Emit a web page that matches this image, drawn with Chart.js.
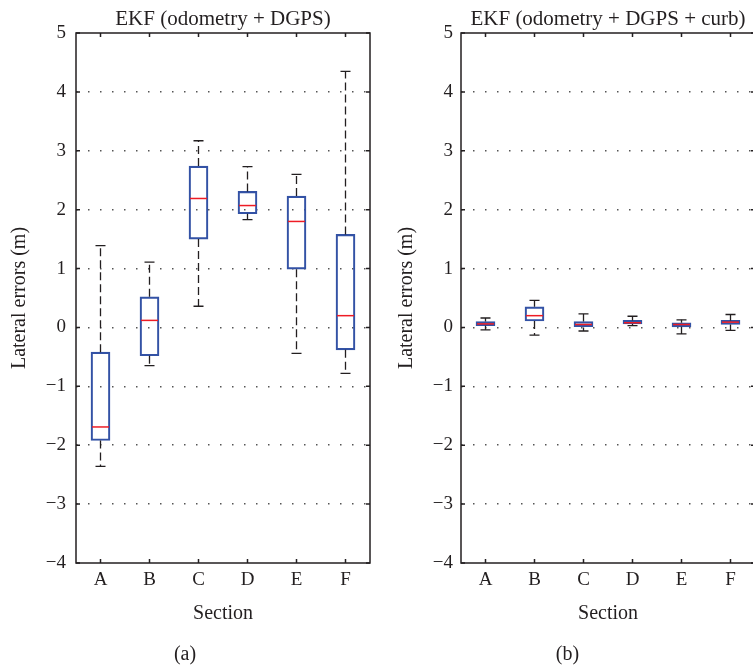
<!DOCTYPE html>
<html>
<head>
<meta charset="utf-8">
<script src="https://cdn.jsdelivr.net/npm/chart.js@4.4.1/dist/chart.umd.min.js"></script>
<style>
    html, body { margin: 0; padding: 0; background: #fff; overflow: hidden; width: 753px; height: 667px; }
    .panel { position: absolute; top: 0; width: 380px; height: 667px; }
</style>
</head>
<body>
<div class="panel" style="left:0"><canvas id="chartA" width="380" height="667"></canvas></div>
<div class="panel" style="left:380px"><canvas id="chartB" width="380" height="667"></canvas></div>

<script>
// Các đoạn đường và vạch trục tung
const sections = ["A", "B", "C", "D", "E", "F"];
const yTickValues = [-4, -3, -2, -1, 0, 1, 2, 3, 4, 5];

// (a) EKF (odometry + DGPS)
const lowA = [-2.36, -0.65, 0.36, 1.83, -0.44, -0.78];
const q1A = [-1.92, -0.48, 1.50, 1.93, 0.99, -0.38];
const medA = [-1.69, 0.12, 2.19, 2.07, 1.80, 0.20];
const q3A = [-0.42, 0.52, 2.74, 2.31, 2.23, 1.58];
const highA = [1.39, 1.11, 3.17, 2.73, 2.60, 4.35];

// (b) EKF (odometry + DGPS + curb)
const lowB = [-0.04, -0.13, -0.06, 0.03, -0.11, -0.05];
const q1B = [0.03, 0.11, 0.00, 0.06, 0.01, 0.05];
const medB = [0.06, 0.20, 0.05, 0.08, 0.05, 0.09];
const q3B = [0.10, 0.35, 0.10, 0.12, 0.08, 0.12];
const highB = [0.16, 0.46, 0.23, 0.19, 0.13, 0.22];

const textColor = "#231f20";
const boxColor = "#3352a5";
const medianColor = "#ee1c25";
const fontFamily = "'Liberation Serif', 'DejaVu Serif', serif";

// Vẽ râu và trung vị cho từng hộp
const boxPlotPlugin = {
    id: "boxPlot",
    afterDatasetsDraw(chart) {
        const ds = chart.data.datasets[0];
        const meta = chart.getDatasetMeta(0);
        const xs = chart.scales.x;
        const ys = chart.scales.y;
        const ctx = chart.ctx;
        ctx.save();
        ds.low.forEach((lo, i) => {
            const cx = xs.getPixelForValue(i);
            const half = meta.data[i].width / 2;
            const yHigh = ys.getPixelForValue(ds.high[i]);
            const yLow = ys.getPixelForValue(lo);
            const yQ1 = ys.getPixelForValue(ds.data[i][0]);
            const yQ3 = ys.getPixelForValue(ds.data[i][1]);

            ctx.strokeStyle = textColor;
            ctx.lineWidth = 1.3;
            ctx.setLineDash([8, 4]);
            ctx.beginPath();
            ctx.moveTo(cx, yQ3);
            ctx.lineTo(cx, yHigh);
            ctx.moveTo(cx, yQ1);
            ctx.lineTo(cx, yLow);
            ctx.stroke();

            ctx.setLineDash([]);
            ctx.beginPath();
            ctx.moveTo(cx - 5, yHigh);
            ctx.lineTo(cx + 5, yHigh);
            ctx.moveTo(cx - 5, yLow);
            ctx.lineTo(cx + 5, yLow);
            ctx.stroke();

            const yMed = ys.getPixelForValue(ds.med[i]);
            ctx.strokeStyle = medianColor;
            ctx.lineWidth = 1.5;
            ctx.beginPath();
            ctx.moveTo(cx - half + 1, yMed);
            ctx.lineTo(cx + half - 1, yMed);
            ctx.stroke();
        });
        ctx.restore();
    },
    // Khung và vạch chia hướng vào trong
    afterDraw(chart) {
        const { left, right, top, bottom } = chart.chartArea;
        const ctx = chart.ctx;
        const tick = 4;
        ctx.save();
        ctx.strokeStyle = textColor;
        ctx.lineWidth = 1.5;
        ctx.strokeRect(left, top, right - left, bottom - top);
        ctx.beginPath();
        chart.scales.x.ticks.forEach((t, i) => {
            const px = chart.scales.x.getPixelForTick(i);
            ctx.moveTo(px, bottom);
            ctx.lineTo(px, bottom - tick);
            ctx.moveTo(px, top);
            ctx.lineTo(px, top + tick);
        });
        chart.scales.y.ticks.forEach((t, i) => {
            const py = chart.scales.y.getPixelForTick(i);
            ctx.moveTo(left, py);
            ctx.lineTo(left + tick, py);
            ctx.moveTo(right, py);
            ctx.lineTo(right - tick, py);
        });
        ctx.stroke();
        ctx.restore();
    }
};

function renderPanel(canvasId, cfg) {
    const ctx = document.getElementById(canvasId).getContext("2d");
    new Chart(ctx, {
        type: "bar",
        data: {
            labels: sections,
            datasets: [
                {
                    data: cfg.q1.map((v, i) => [v, cfg.q3[i]]),
                    low: cfg.low,
                    med: cfg.med,
                    high: cfg.high,
                    backgroundColor: "rgba(0,0,0,0)",
                    borderColor: boxColor,
                    borderWidth: 1.5,
                    borderSkipped: false,
                    barThickness: 19,
                },
            ],
        },
        options: {
            responsive: false,
            animation: false,
            layout: { padding: { left: 0, right: cfg.padRight, top: 0, bottom: 0 } },
            plugins: {
                legend: { display: false },
                tooltip: { enabled: false },
                title: {
                    display: true,
                    text: cfg.title,
                    fullSize: false,
                    color: textColor,
                    font: { family: fontFamily, size: 21, weight: "normal" },
                    padding: { top: 7, bottom: 0.8 },
                },
                subtitle: {
                    display: true,
                    text: cfg.tag,
                    position: "bottom",
                    color: textColor,
                    font: { family: fontFamily, size: 20, weight: "normal" },
                    padding: { top: 0, bottom: 0 },
                },
            },
            scales: {
                x: {
                    offset: true,
                    grid: { display: false, drawTicks: false },
                    border: { display: false },
                    ticks: {
                        color: textColor,
                        padding: 5.5,
                        font: { family: fontFamily, size: 19 },
                    },
                    title: {
                        display: true,
                        text: "Section",
                        color: textColor,
                        font: { family: fontFamily, size: 20 },
                        padding: { top: 0, bottom: 17 },
                    },
                    afterFit: (scale) => { scale.height = 80; },
                },
                y: {
                    min: -4,
                    max: 5,
                    afterBuildTicks: (scale) => {
                        scale.ticks = yTickValues.map((v) => ({ value: v }));
                    },
                    grid: {
                        drawTicks: false,
                        lineWidth: 1.5,
                        color: (c) =>
                            c.tick && (c.tick.value === -4 || c.tick.value === 5)
                                ? "rgba(0,0,0,0)"
                                : "#555",
                    },
                    border: { display: false, dash: [1.5, 10.5] },
                    ticks: {
                        color: textColor,
                        padding: cfg.tickPad,
                        font: { family: fontFamily, size: 19 },
                        callback: (v) => String(v).replace("-", "\u2212"),
                    },
                    title: {
                        display: true,
                        text: "Lateral errors (m)",
                        color: textColor,
                        font: { family: fontFamily, size: 20 },
                        padding: { top: cfg.titlePad, bottom: 0 },
                    },
                    afterFit: (scale) => { scale.width = cfg.axisWidth; },
                },
            },
        },
        plugins: [boxPlotPlugin],
    });
}

renderPanel("chartA", {
    title: "EKF (odometry + DGPS)",
    tag: "(a)",
    low: lowA, q1: q1A, med: medA, q3: q3A, high: highA,
    axisWidth: 76, padRight: 10, tickPad: 10, titlePad: 8,
});

renderPanel("chartB", {
    title: "EKF (odometry + DGPS + curb)",
    tag: "(b)",
    low: lowB, q1: q1B, med: medB, q3: q3B, high: highB,
    axisWidth: 81, padRight: 5, tickPad: 8, titlePad: 15,
});
</script>
</body>
</html>
